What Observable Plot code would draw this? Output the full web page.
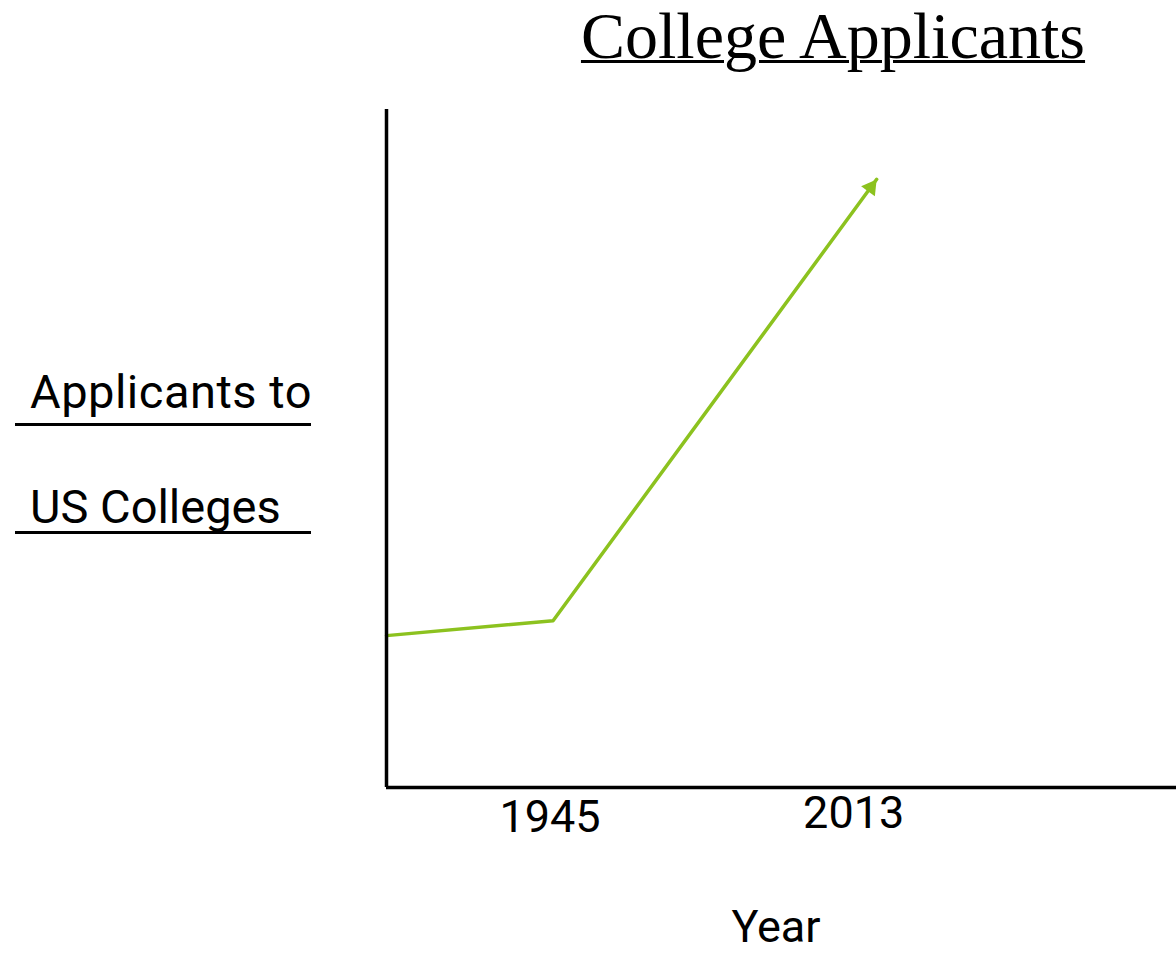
<!DOCTYPE html>
<html>
<head>
<meta charset="utf-8">
<script src="https://cdn.jsdelivr.net/npm/d3@7"></script>
<script src="https://cdn.jsdelivr.net/npm/@observablehq/plot@0.6"></script>
<style>
  html, body { margin: 0; padding: 0; background: #fff; }
  #wrap { position: relative; width: 1176px; height: 958px; overflow: hidden; }
  #chart { position: absolute; left: 0; top: 0; }
  .txt { position: absolute; white-space: pre; color: #000; }
  #title { left: 483px; width: 700px; top: 3px; text-align: center; font-family: "Liberation Serif", serif; font-size: 66px; line-height: 66px; text-decoration: underline; text-decoration-thickness: 3px; }
  .ylab { left: 30px; font-family: Roboto, sans-serif; font-size: 47px; line-height: 47px; }
  .uline { position: absolute; left: 15px; width: 296px; height: 3px; background: #000; }
  #xlab { left: 676px; width: 200px; text-align: center; top: 904px; font-family: Roboto, sans-serif; font-size: 45px; line-height: 45px; }
</style>
</head>
<body>
<div id="wrap">
  <div id="chart"></div>
  <div id="title" class="txt"></div>
  <div id="ylab1" class="txt ylab" style="top:368px; letter-spacing:0.5px"></div>
  <div class="uline" style="top:423px"></div>
  <div id="ylab2" class="txt ylab" style="top:483px"></div>
  <div class="uline" style="top:531px"></div>
  <div id="xlab" class="txt"></div>
</div>
<script>
// ---- data ----
const titleText = "College Applicants";
const yLabelLines = ["Applicants to", "US Colleges"];
const xLabelText = "Year";
const years = [1910, 1945, 2013];
const applicants = [22.4, 24.6, 89.7];
const tickYears = [1945, 2013];
const tickLabels = ["1945", "2013"];
const xDomain = [1910, 2076];
const yDomain = [0, 100];

const series = years.map((y, i) => ({year: y, value: applicants[i]}));
const last = series[series.length - 1];
const green = "#8cc21f";

document.getElementById("title").textContent = titleText;
document.getElementById("ylab1").textContent = yLabelLines[0];
document.getElementById("ylab2").textContent = yLabelLines[1];
document.getElementById("xlab").textContent = xLabelText;

const tickFont = {fontFamily: "Roboto, sans-serif", fontSize: 45, fill: "#000", textAnchor: "middle", lineAnchor: "middle"};

const chart = Plot.plot({
  width: 1176,
  height: 958,
  marginLeft: 386,
  marginRight: 0,
  marginTop: 109,
  marginBottom: 171,
  x: {domain: xDomain, axis: null},
  y: {domain: yDomain, axis: null},
  marks: [
    Plot.line(series, {x: "year", y: "value", stroke: green, strokeWidth: 3.5}),
    Plot.dot([last], {x: "year", y: "value", symbol: "triangle", r: 6.3, fill: green, stroke: "none", rotate: 36, dx: -5.8, dy: 8}),
    Plot.ruleX([xDomain[0]], {y1: yDomain[0], y2: yDomain[1], stroke: "#000", strokeWidth: 3.5}),
    Plot.ruleY([yDomain[0]], {x1: xDomain[0], x2: xDomain[1], stroke: "#000", strokeWidth: 3.5}),
    Plot.text([0], {x: () => tickYears[0], y: () => yDomain[0], text: () => tickLabels[0], dx: -3, dy: 30, ...tickFont}),
    Plot.text([1], {x: () => tickYears[1], y: () => yDomain[0], text: () => tickLabels[1], dx: -23, dy: 26, ...tickFont})
  ]
});
document.getElementById("chart").appendChild(chart);
</script>
</body>
</html>
